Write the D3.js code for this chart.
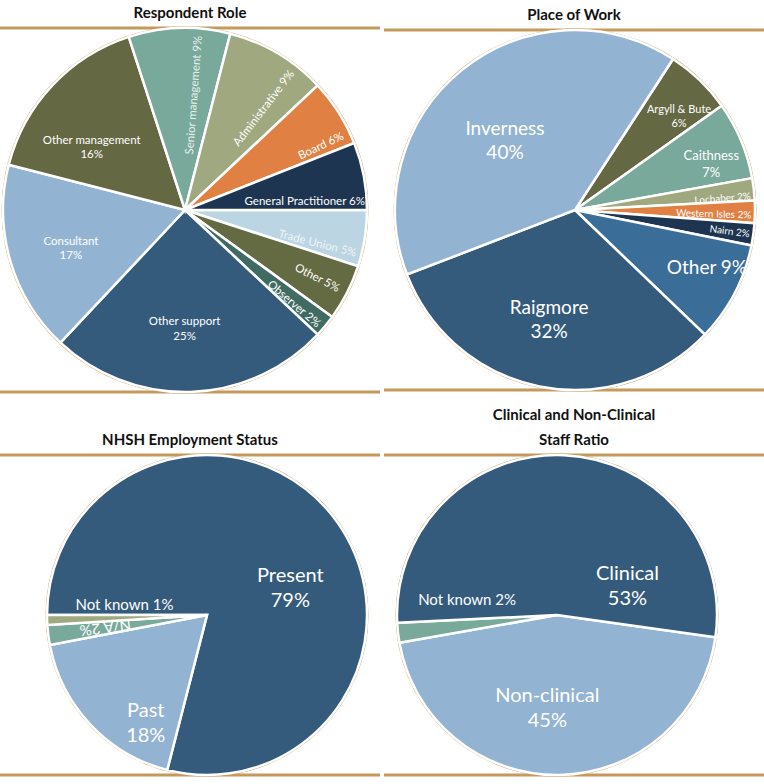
<!DOCTYPE html>
<html>
<head>
<meta charset="utf-8">
<script src="https://cdn.jsdelivr.net/npm/d3@7"></script>
<style>
  body { margin: 0; background: #fff; }
  text { font-family: Lato, "Noto Sans", sans-serif; }
</style>
</head>
<body>
<svg id="chart" width="764" height="784"></svg>
<script>
// Respondent Role (clockwise from 3 o'clock)
const roleLabels = ["Trade Union", "Other", "Observer", "Other support", "Consultant", "Other management", "Senior management", "Administrative", "Board", "General Practitioner"];
const roleValues = [5, 5, 2, 25, 17, 16, 9, 9, 6, 6];
const roleColors = ["#bcd5e3", "#646a42", "#3f6b62", "#345b7c", "#93b3d2", "#646843", "#78a99a", "#9fa87f", "#e08143", "#1d3551"];

// Place of Work
const placeLabels = ["Argyll & Bute", "Caithness", "Lochaber", "Western Isles", "Nairn", "Other", "Raigmore", "Inverness"];
const placeValues = [6, 7, 2, 2, 2, 9, 32, 40];
const placeColors = ["#646843", "#78a99a", "#9fa87f", "#e08143", "#1d3551", "#3b6d99", "#345b7c", "#93b3d2"];

// NHSH Employment Status
const statusLabels = ["Present", "Past", "N/A", "Not known"];
const statusValues = [79, 18, 2, 1];
const statusColors = ["#345b7c", "#93b3d2", "#78a99a", "#9fa87f"];

// Clinical and Non-Clinical Staff Ratio
const ratioLabels = ["Non-clinical", "Not known", "Clinical"];
const ratioValues = [45, 2, 53];
const ratioColors = ["#93b3d2", "#78a99a", "#345b7c"];

const gold = "#c49a5c";
const svg = d3.select("#chart");

// label style per slice: lr = radius fraction, da = angle shift (deg), rot = radial text, two = two-line
function drawPie(opt) {
  const g = svg.append("g");
  const rad = Math.PI / 180;

  // gold guide lines at top and bottom of the pie
  [opt.cy - opt.r, opt.cy + opt.r].forEach(y => {
    g.append("line").attr("x1", opt.x0).attr("x2", opt.x1)
      .attr("y1", y).attr("y2", y)
      .attr("stroke", gold).attr("stroke-width", 3);
  });

  const pie = d3.pie().sort(null).value(d => d)
    .startAngle(opt.start * rad).endAngle((opt.start + 360) * rad);
  const arcs = pie(opt.values);
  const arc = d3.arc().innerRadius(0).outerRadius(opt.r);

  const pg = g.append("g").attr("transform", `translate(${opt.cx},${opt.cy})`);
  pg.append("circle").attr("r", opt.r + 1.5).attr("fill", gold);
  pg.selectAll("path").data(arcs).join("path")
    .attr("d", arc)
    .attr("fill", (d, i) => opt.colors[i])
    .attr("stroke", "#fff").attr("stroke-width", 2.5);

  arcs.forEach((d, i) => {
    const s = opt.styles[i];
    const a = (d.startAngle + d.endAngle) / 2 + (s.da || 0) * rad; // d3 angle
    const sa = a - Math.PI / 2; // screen angle
    const rr = s.lr * opt.r;
    const x = Math.cos(sa) * rr, y = Math.sin(sa) * rr;
    const pct = opt.values[i] + "%";
    const t = pg.append("text")
      .attr("fill", s.color || "#fff")
      .attr("font-size", s.size)
      .attr("text-anchor", s.anchor || "middle");
    if (s.rot) {
      t.attr("transform", `translate(${x},${y}) rotate(${sa / rad})`)
        .attr("dy", "0.35em")
        .text(opt.labels[i] + " " + pct);
    } else if (s.two) {
      t.attr("x", x).attr("y", y);
      t.append("tspan").attr("x", x).attr("dy", "-0.25em").text(opt.labels[i]);
      t.append("tspan").attr("x", x).attr("dy", "1.25em").text(pct);
    } else {
      t.attr("x", x).attr("y", y).attr("dy", "0.35em").text(opt.labels[i] + " " + pct);
    }
  });

  const tt = g.append("text").attr("text-anchor", "middle")
    .attr("font-size", 15).attr("font-weight", "bold").attr("fill", "#111");
  opt.title.forEach((line, k) => {
    tt.append("tspan").attr("x", (opt.x0 + opt.x1) / 2)
      .attr("y", opt.cy - opt.r - 10 - (opt.title.length - 1 - k) * 25).text(line);
  });
}

drawPie({
  cx: 185, cy: 210, r: 182, x0: 0, x1: 380, start: 90,
  values: roleValues, labels: roleLabels, colors: roleColors,
  title: ["Respondent Role"],
  styles: [
    { lr: 0.97, da: 5, rot: true, anchor: "end", size: 11.5, color: "#eef4f8" },
    { lr: 0.95, da: 0, rot: true, anchor: "end", size: 11.5 },
    { lr: 0.97, da: 1, rot: true, anchor: "end", size: 11.5 },
    { lr: 0.65, da: 2, two: true, size: 11.5 },
    { lr: 0.66, da: -2, two: true, size: 11.5 },
    { lr: 0.62, da: -9, two: true, size: 11.5 },
    { lr: 0.96, da: 6, rot: true, anchor: "end", size: 11.5, color: "#e8f1ee" },
    { lr: 0.96, da: 7, rot: true, anchor: "end", size: 11.5 },
    { lr: 0.96, da: 7, rot: true, anchor: "end", size: 11.5 },
    { lr: 0.99, da: 8, anchor: "end", size: 11.5 }
  ]
});

drawPie({
  cx: 575, cy: 210, r: 180, x0: 384, x1: 764, start: 33,
  values: placeValues, labels: placeLabels, colors: placeColors,
  title: ["Place of Work"],
  styles: [
    { lr: 0.78, da: 4, two: true, size: 11 },
    { lr: 0.8, da: 4, two: true, size: 13 },
    { lr: 0.98, da: 2, rot: true, anchor: "end", size: 10 },
    { lr: 0.98, da: 1, rot: true, anchor: "end", size: 10 },
    { lr: 0.98, da: 0, rot: true, anchor: "end", size: 10 },
    { lr: 0.8, da: -4, size: 19 },
    { lr: 0.62, da: 2, two: true, size: 19 },
    { lr: 0.55, da: -6, two: true, size: 19 }
  ]
});

drawPie({
  cx: 207, cy: 615, r: 160, x0: 0, x1: 380, start: 270,
  values: statusValues, labels: statusLabels, colors: statusColors,
  title: ["NHSH Employment Status"],
  styles: [
    { lr: 0.55, da: 19, two: true, size: 20 },
    { lr: 0.77, da: -17, two: true, size: 20 },
    { lr: 0.64, da: 0, rot: true, size: 15 },
    { lr: 0.52, da: 9, size: 15 }
  ]
});

drawPie({
  cx: 557, cy: 615, r: 160, x0: 384, x1: 764, start: 98,
  values: ratioValues, labels: ratioLabels, colors: ratioColors,
  title: ["Clinical and Non-Clinical", "Staff Ratio"],
  styles: [
    { lr: 0.58, da: 7, two: true, size: 20 },
    { lr: 0.57, da: 16, size: 15 },
    { lr: 0.48, da: 64, two: true, size: 20 }
  ]
});
</script>
</body>
</html>
